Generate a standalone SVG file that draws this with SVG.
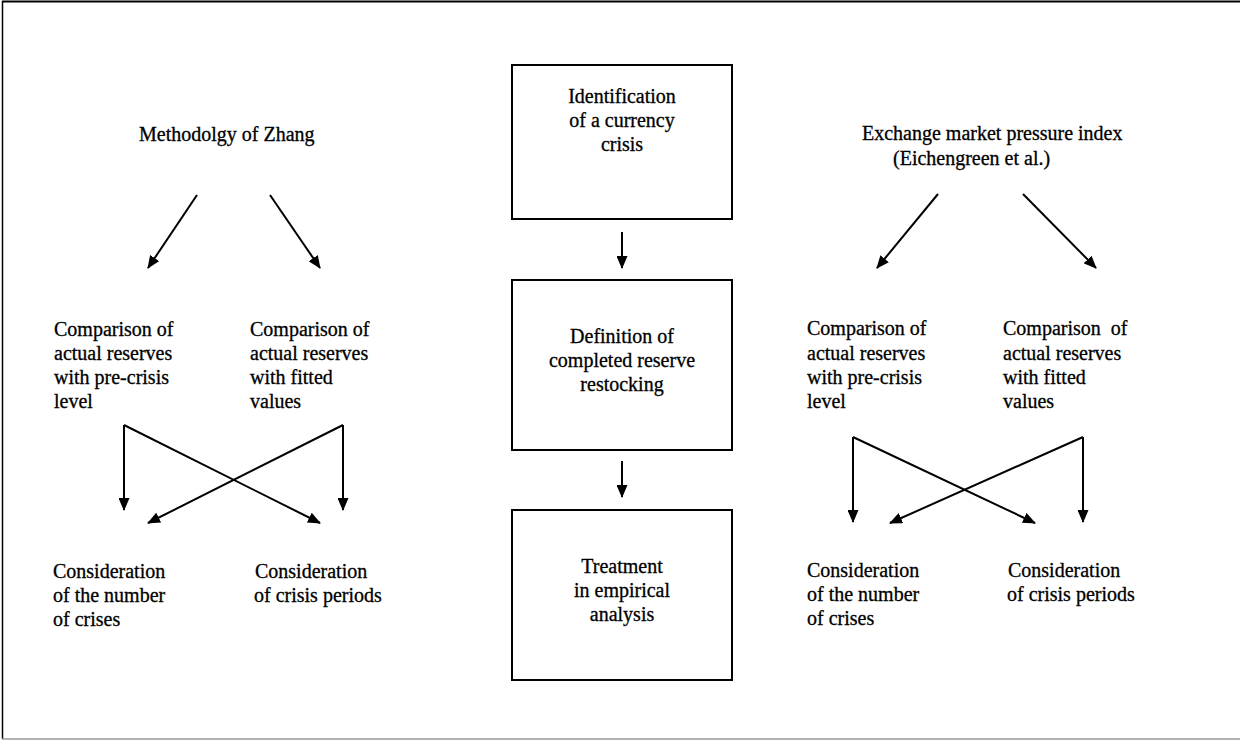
<svg xmlns="http://www.w3.org/2000/svg" width="1240" height="740" viewBox="0 0 1240 740">
  <style>
    text { font-family: "Liberation Serif", "Times New Roman", serif; font-size: 20px; fill: #000; stroke: #000; stroke-width: 0.3px; }
    .mid { text-anchor: middle; }
    .box { fill: #fff; stroke: #000; stroke-width: 2; }
    .arrow { fill: none; stroke: #000; stroke-width: 2; marker-end: url(#head); }
  </style>
  <defs>
    <marker id="head" viewBox="0 0 13 11" refX="12" refY="5.5" markerWidth="13" markerHeight="11" markerUnits="userSpaceOnUse" orient="auto">
      <path d="M0,0 L13,5.5 L0,11 Z" fill="#000"/>
    </marker>
  </defs>

  <!-- page frame -->
  <rect x="0" y="0" width="1240" height="740" fill="#fff"/>
  <g id="frame" fill="none">
    <line x1="2" y1="1.5" x2="1240" y2="1.5" stroke="#000" stroke-width="2"/>
    <line x1="2.5" y1="1" x2="2.5" y2="739" stroke="#000" stroke-width="1.5"/>
    <line x1="2" y1="739" x2="1240" y2="739" stroke="#999" stroke-width="1.5"/>
  </g>

  <!-- left branch -->
  <g id="zhang">
    <text x="139" y="141">Methodolgy of Zhang</text>
  </g>
  <g id="zhang-precrisis">
    <text x="54" y="336">Comparison of</text>
    <text x="54" y="360">actual reserves</text>
    <text x="54" y="384">with pre-crisis</text>
    <text x="54" y="408">level</text>
  </g>
  <g id="zhang-fitted">
    <text x="250" y="336">Comparison of</text>
    <text x="250" y="360">actual reserves</text>
    <text x="250" y="384">with fitted</text>
    <text x="250" y="408">values</text>
  </g>
  <g id="zhang-number">
    <text x="53" y="578">Consideration</text>
    <text x="53" y="602">of the number</text>
    <text x="53" y="626">of crises</text>
  </g>
  <g id="zhang-periods">
    <text x="255" y="578">Consideration</text>
    <text x="254" y="602">of crisis periods</text>
  </g>

  <!-- centre column -->
  <g id="identification">
    <rect class="box" x="512" y="65" width="220" height="154"/>
    <text class="mid" x="622" y="103">Identification</text>
    <text class="mid" x="622" y="127">of a currency</text>
    <text class="mid" x="622" y="151">crisis</text>
  </g>
  <g id="definition">
    <rect class="box" x="512" y="280" width="220" height="170"/>
    <text class="mid" x="622" y="343">Definition of</text>
    <text class="mid" x="622" y="367">completed reserve</text>
    <text class="mid" x="622" y="391">restocking</text>
  </g>
  <g id="treatment">
    <rect class="box" x="512" y="510" width="220" height="170"/>
    <text class="mid" x="622" y="573">Treatment</text>
    <text class="mid" x="622" y="597">in empirical</text>
    <text class="mid" x="622" y="621">analysis</text>
  </g>

  <!-- right branch -->
  <g id="emp-index">
    <text x="862" y="140">Exchange market pressure index</text>
    <text x="893" y="165">(Eichengreen et al.)</text>
  </g>
  <g id="emp-precrisis">
    <text x="807" y="335">Comparison of</text>
    <text x="807" y="360">actual reserves</text>
    <text x="807" y="384">with pre-crisis</text>
    <text x="807" y="408">level</text>
  </g>
  <g id="emp-fitted">
    <text x="1003" y="335" xml:space="preserve">Comparison  of</text>
    <text x="1003" y="360">actual reserves</text>
    <text x="1003" y="384">with fitted</text>
    <text x="1003" y="408">values</text>
  </g>
  <g id="emp-number">
    <text x="807" y="577">Consideration</text>
    <text x="807" y="601">of the number</text>
    <text x="807" y="625">of crises</text>
  </g>
  <g id="emp-periods">
    <text x="1008" y="577">Consideration</text>
    <text x="1007" y="601">of crisis periods</text>
  </g>

  <!-- connectors -->
  <g id="connectors">
    <line class="arrow" x1="197" y1="195" x2="148" y2="268"/>
    <line class="arrow" x1="270" y1="195" x2="320" y2="268"/>
    <path class="arrow" d="M124,425 V510"/>
    <path class="arrow" d="M124,425 L320,523"/>
    <path class="arrow" d="M343,425 V510"/>
    <path class="arrow" d="M343,425 L148,523"/>

    <line class="arrow" x1="622" y1="232" x2="622" y2="268"/>
    <line class="arrow" x1="622" y1="461" x2="622" y2="497"/>

    <line class="arrow" x1="938" y1="194" x2="877" y2="268"/>
    <line class="arrow" x1="1023" y1="194" x2="1096" y2="268"/>
    <path class="arrow" d="M853,437 V522"/>
    <path class="arrow" d="M853,437 L1035,523"/>
    <path class="arrow" d="M1083,437 V522"/>
    <path class="arrow" d="M1083,437 L890,523"/>
  </g>
</svg>
